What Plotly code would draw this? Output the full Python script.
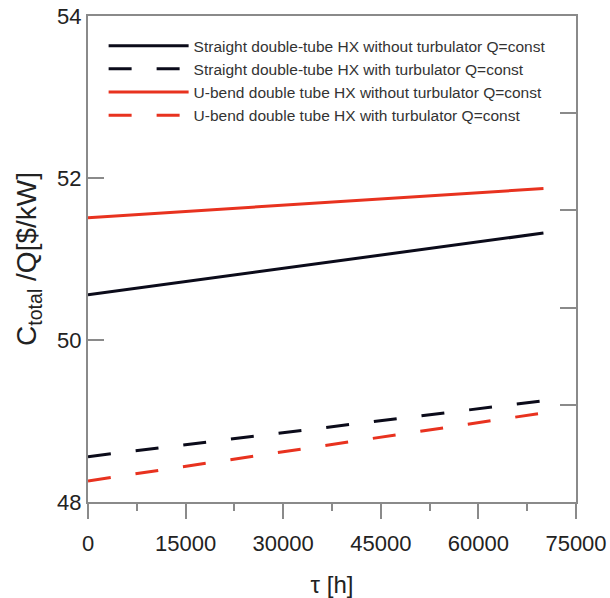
import plotly.graph_objects as go

# Data
tau = [0, 70000]
straight_without = [50.56, 51.32]
straight_with = [48.56, 49.25]
ubend_without = [51.51, 51.87]
ubend_with = [48.26, 49.10]

names = [
    "Straight double-tube HX without turbulator Q=const",
    "Straight double-tube HX with turbulator Q=const",
    "U-bend double tube HX without turbulator Q=const",
    "U-bend double tube HX with turbulator Q=const",
]
series = [straight_without, straight_with, ubend_without, ubend_with]
colors = ["#0b0b1a", "#0b0b1a", "#e8321f", "#e8321f"]
dashes = ["solid", "23px,25px", "solid", "23px,25px"]

x_ticks = [0, 15000, 30000, 45000, 60000, 75000]
y_ticks = [48, 50, 52, 54]
x_title = "τ [h]"
y_title = "C<sub>total</sub> /Q[$/kW]"

FONT = "Liberation Sans, Arial, Helvetica, sans-serif"
AX = "#8a8a8a"

fig = go.Figure()
for n, s, c, d in zip(names, series, colors, dashes):
    fig.add_trace(go.Scatter(x=tau, y=s, mode="lines", name=n,
                             line=dict(color=c, width=3, dash=d)))

# invisible trace for right-axis frame ticks
fig.add_trace(go.Scatter(x=[0], y=[0], yaxis="y2", mode="markers",
                         marker=dict(opacity=0), showlegend=False, hoverinfo="skip"))

fig.add_annotation(text=y_title, xref="paper", yref="paper", x=-0.123, y=0.5,
                   xanchor="center", yanchor="middle", textangle=-90, showarrow=False,
                   font=dict(size=28, color="#222", family=FONT))

fig.update_layout(
    width=610, height=598,
    margin=dict(l=88, r=34, t=16, b=96),
    paper_bgcolor="white", plot_bgcolor="white",
    font=dict(family=FONT, color="#222"),
    showlegend=True,
    legend=dict(x=0.032, y=0.973, xanchor="left", yanchor="top",
                bgcolor="rgba(0,0,0,0)", font=dict(size=15.5, color="#333"),
                itemwidth=80, tracegroupgap=0),
    xaxis=dict(range=[0, 75000], tickvals=x_ticks, ticktext=[str(v) for v in x_ticks],
               ticks="outside", ticklen=15, tickwidth=2, tickcolor=AX,
               minor=dict(dtick=7500, ticks="outside", ticklen=7, tickwidth=2, tickcolor=AX),
               showline=True, linecolor=AX, linewidth=2, mirror=True,
               showgrid=False, zeroline=False, automargin=False,
               ticklabelstandoff=6,
               tickfont=dict(size=22, color="#222"),
               title=dict(text=x_title, font=dict(size=24, color="#222"), standoff=21)),
    yaxis=dict(range=[48, 54], tickvals=y_ticks, ticks="inside", ticklen=16,
               tickwidth=2, tickcolor=AX,
               showline=True, linecolor=AX, linewidth=2, mirror=True,
               showgrid=False, zeroline=False, automargin=False,
               tickfont=dict(size=22, color="#222")),
    yaxis2=dict(range=[0, 5], dtick=1, overlaying="y", side="right",
                ticks="inside", ticklen=16, tickwidth=2, tickcolor=AX,
                showticklabels=False, showgrid=False, zeroline=False, showline=False,
                automargin=False),
)

fig.write_html("out.html", config={"displayModeBar": False},
               post_script="document.body.style.margin='0';")
